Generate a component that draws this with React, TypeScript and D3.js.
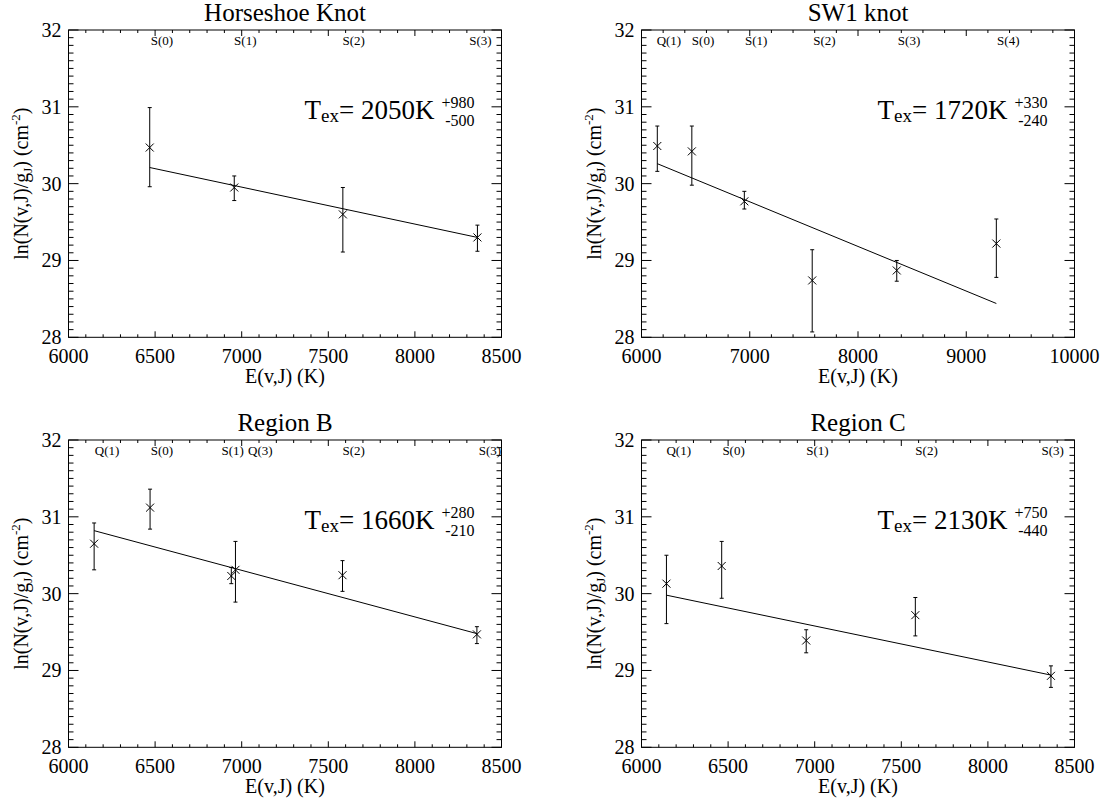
import React from "react";
import * as d3 from "d3";

// ---------- data ----------
const titles = ["Horseshoe Knot", "SW1 knot", "Region B", "Region C"];
const xDomains: [number, number][] = [[6000, 8500], [6000, 10000], [6000, 8500], [6000, 8500]];
const xMinorSteps = [100, 200, 100, 100];
const yDomain: [number, number] = [28, 32];

// Horseshoe Knot
const hsE = [6469, 6957, 7584, 8361];
const hsY = [30.47, 29.95, 29.6, 29.3];
const hsHi = [30.99, 30.1, 29.95, 29.46];
const hsLo = [29.96, 29.78, 29.11, 29.12];
const hsFitE = [6469, 8361];
const hsFitY = [30.21, 29.3];
const hsLabels = ["S(0)", "S(1)", "S(2)", "S(3)"];
const hsLabelE = [6475, 6956, 7582, 8314];

// SW1 knot
const swE = [6146, 6465, 6950, 7577, 8358, 9278];
const swY = [30.49, 30.42, 29.77, 28.74, 28.87, 29.22];
const swHi = [30.75, 30.75, 29.9, 29.14, 29.0, 29.54];
const swLo = [30.16, 29.98, 29.67, 28.07, 28.73, 28.78];
const swFitE = [6146, 9278];
const swFitY = [30.26, 28.44];
const swLabels = ["Q(1)", "S(0)", "S(1)", "S(2)", "S(3)", "S(4)"];
const swLabelE = [6140, 6465, 6956, 7587, 8368, 9285];

// Region B
const rbE = [6148, 6471, 6940, 6964, 7582, 8358];
const rbY = [30.65, 31.12, 30.23, 30.31, 30.24, 29.47];
const rbHi = [30.92, 31.36, 30.34, 30.68, 30.43, 29.57];
const rbLo = [30.31, 30.84, 30.13, 29.89, 30.03, 29.35];
const rbFitE = [6148, 8358];
const rbFitY = [30.82, 29.48];
const rbLabels = ["Q(1)", "S(0)", "S(1)", "Q(3)", "S(2)", "S(3)"];
const rbLabelE = [6152, 6475, 6883, 7037, 7582, 8369];

// Region C
const rcE = [6144, 6463, 6951, 7581, 8364];
const rcY = [30.13, 30.36, 29.39, 29.72, 28.93];
const rcHi = [30.5, 30.68, 29.53, 29.95, 29.06];
const rcLo = [29.61, 29.94, 29.23, 29.45, 28.78];
const rcFitE = [6144, 8364];
const rcFitY = [29.98, 28.94];
const rcLabels = ["Q(1)", "S(0)", "S(1)", "S(2)", "S(3)"];
const rcLabelE = [6144, 6467, 6951, 7581, 8309];

const tex = ["2050", "1720", "1660", "2130"];
const texPlus = ["+980", "+330", "+280", "+750"];
const texMinus = ["-500", "-240", "-210", "-440"];

const panelsData = [
  { E: hsE, Y: hsY, Hi: hsHi, Lo: hsLo, fitE: hsFitE, fitY: hsFitY, labels: hsLabels, labelE: hsLabelE },
  { E: swE, Y: swY, Hi: swHi, Lo: swLo, fitE: swFitE, fitY: swFitY, labels: swLabels, labelE: swLabelE },
  { E: rbE, Y: rbY, Hi: rbHi, Lo: rbLo, fitE: rbFitE, fitY: rbFitY, labels: rbLabels, labelE: rbLabelE },
  { E: rcE, Y: rcY, Hi: rcHi, Lo: rcLo, fitE: rcFitE, fitY: rcFitY, labels: rcLabels, labelE: rcLabelE },
];

// ---------- layout ----------
const W = 1103;
const H = 803;
const colX = [68.5, 641.5];
const rowY = [30, 440];
const PW = 433;
const PH = 307.3;
const FONT = "'Liberation Serif', 'Times New Roman', Times, serif";

function Panel({ idx }: { idx: number }) {
  const d = panelsData[idx];
  const left = colX[idx % 2];
  const top = rowY[Math.floor(idx / 2)];
  const x = d3.scaleLinear().domain(xDomains[idx]).range([left, left + PW]);
  const y = d3.scaleLinear().domain(yDomain).range([top + PH, top]);
  const bottom = top + PH;
  const right = left + PW;

  const xMajor = x.ticks(5);
  const xMinor = d3.range(xDomains[idx][0], xDomains[idx][1] + 1e-6, xMinorSteps[idx]).filter(
    (v) => !xMajor.some((m) => Math.abs(m - v) < 1e-6)
  );
  const yMajor = d3.range(28, 32.001, 1);
  const yMinor = d3.range(28, 32.001, 0.1).filter((v) => Math.abs(v - Math.round(v)) > 1e-6);

  const line = d3
    .line<number>()
    .x((_, i) => x(d.fitE[i]))
    .y((v) => y(v));

  const s = { stroke: "#000", strokeWidth: 1, fill: "none" } as const;
  const cx = left + PW / 2;

  return (
    <g>
      <text x={cx} y={top - 9} textAnchor="middle" fontSize={25} fontFamily={FONT}>
        {titles[idx]}
      </text>
      {/* frame */}
      <rect x={left} y={top} width={PW} height={PH} {...s} />
      {/* x ticks */}
      {xMajor.map((t) => (
        <g key={"xm" + t}>
          <line x1={x(t)} x2={x(t)} y1={bottom} y2={bottom - 6} {...s} />
          <line x1={x(t)} x2={x(t)} y1={top} y2={top + 6} {...s} />
          <text x={x(t)} y={bottom + 26} textAnchor="middle" fontSize={20} fontFamily={FONT}>
            {t}
          </text>
        </g>
      ))}
      {xMinor.map((t) => (
        <g key={"xn" + t}>
          <line x1={x(t)} x2={x(t)} y1={bottom} y2={bottom - 3} {...s} />
          <line x1={x(t)} x2={x(t)} y1={top} y2={top + 3} {...s} />
        </g>
      ))}
      {/* y ticks */}
      {yMajor.map((t) => (
        <g key={"ym" + t}>
          <line x1={left} x2={left + 10} y1={y(t)} y2={y(t)} {...s} />
          <line x1={right} x2={right - 10} y1={y(t)} y2={y(t)} {...s} />
          <text x={left - 7} y={y(t) + 7} textAnchor="end" fontSize={20} fontFamily={FONT}>
            {t}
          </text>
        </g>
      ))}
      {yMinor.map((t, i) => (
        <g key={"yn" + i}>
          <line x1={left} x2={left + 5} y1={y(t)} y2={y(t)} {...s} />
          <line x1={right} x2={right - 5} y1={y(t)} y2={y(t)} {...s} />
        </g>
      ))}
      {/* axis titles */}
      <text x={cx} y={bottom + 46} textAnchor="middle" fontSize={20} fontFamily={FONT}>
        E(v,J) (K)
      </text>
      <text
        transform={`translate(${left - 41},${top + PH / 2}) rotate(-90)`}
        textAnchor="middle"
        fontSize={20}
        fontFamily={FONT}
      >
        ln(N(v,J)/g
        <tspan fontSize={13} dy={4}>J</tspan>
        <tspan dy={-4}>) (cm</tspan>
        <tspan fontSize={13} dy={-8}>-2</tspan>
        <tspan dy={8}>)</tspan>
      </text>
      {/* line labels */}
      {d.labels.map((lb, i) => (
        <text key={"lb" + i} x={x(d.labelE[i])} y={top + 15} fontSize={13} fontFamily={FONT}>
          {lb}
        </text>
      ))}
      {/* fit line */}
      <path d={line(d.fitY) || ""} {...s} />
      {/* error bars and points */}
      {d.E.map((e, i) => {
        const px = x(e);
        const py = y(d.Y[i]);
        const hi = y(d.Hi[i]);
        const lo = y(d.Lo[i]);
        return (
          <g key={"p" + i}>
            <line x1={px} x2={px} y1={hi} y2={lo} {...s} />
            <line x1={px - 2} x2={px + 2} y1={hi} y2={hi} {...s} />
            <line x1={px - 2} x2={px + 2} y1={lo} y2={lo} {...s} />
            <line x1={px - 4} x2={px + 4} y1={py - 4} y2={py + 4} {...s} />
            <line x1={px - 4} x2={px + 4} y1={py + 4} y2={py - 4} {...s} />
          </g>
        );
      })}
      {/* T_ex annotation */}
      <text x={left + 236} y={top + 89} fontSize={27} fontFamily={FONT}>
        T<tspan fontSize={19} dy={3}>ex</tspan>
        <tspan dy={-3}>= {tex[idx]}K</tspan>
      </text>
      <text x={left + 406} y={top + 78} textAnchor="end" fontSize={16} fontFamily={FONT}>
        {texPlus[idx]}
      </text>
      <text x={left + 406} y={top + 96} textAnchor="end" fontSize={16} fontFamily={FONT}>
        {texMinus[idx]}
      </text>
    </g>
  );
}

export default function App() {
  return (
    <div style={{ position: "absolute", left: 0, top: 0, background: "#fff" }}>
      <svg width={W} height={H} viewBox={`0 0 ${W} ${H}`} style={{ display: "block", background: "#fff" }}>
        {[0, 1, 2, 3].map((i) => (
          <Panel key={i} idx={i} />
        ))}
      </svg>
    </div>
  );
}
